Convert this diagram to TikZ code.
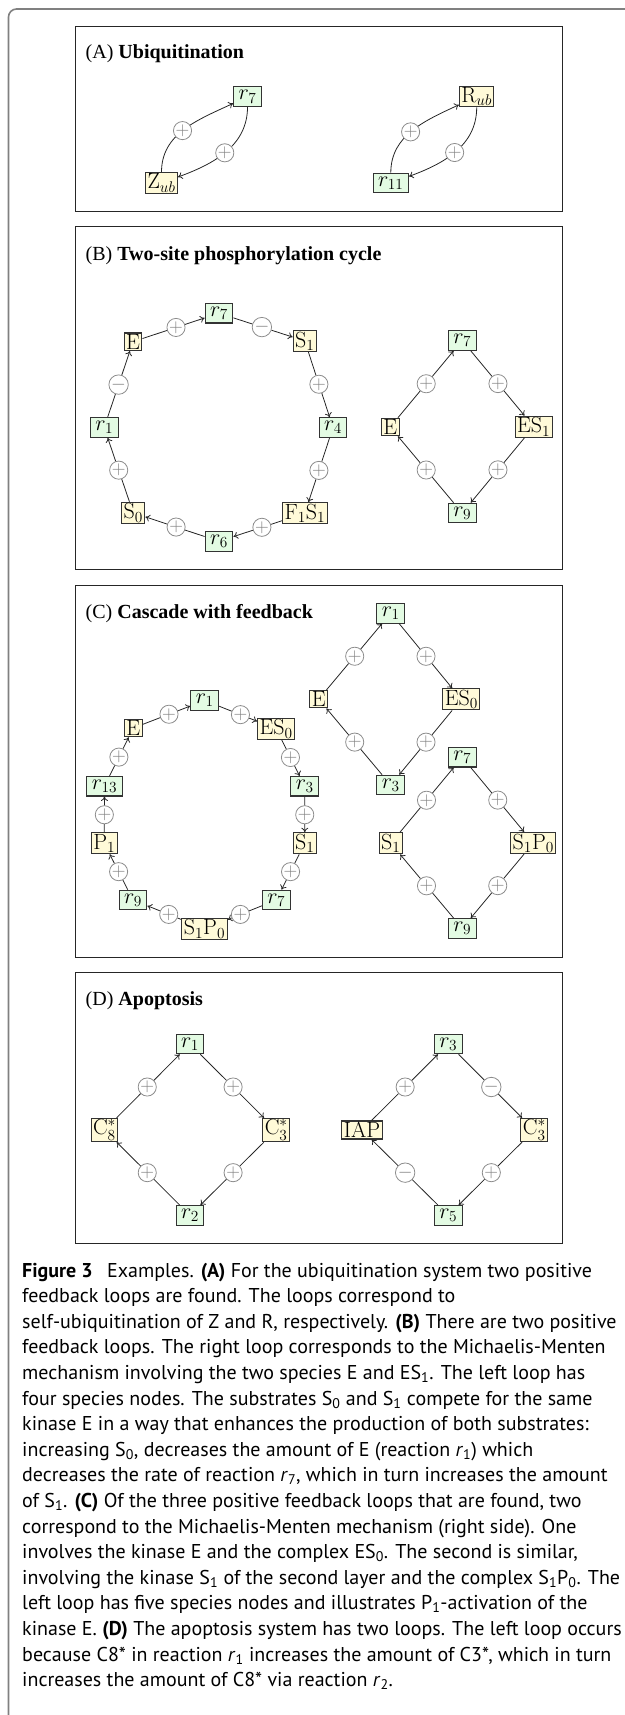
\RequirePackage{fix-cm}
\documentclass[tikz,border=0pt]{standalone}
\usepackage{fontspec}
\newfontfamily\titlefont{Liberation Serif}
\newfontfamily\capfont{PT Sans}
\usetikzlibrary{arrows.meta,calc}
\definecolor{rfill}{HTML}{E3FBE3}
\definecolor{sfill}{HTML}{FFFAD8}
\tikzset{
  rxn/.style={draw=black!80, fill=rfill, line width=1.1pt, inner xsep=5pt, inner ysep=1pt, minimum height=19.5pt, font=\fontsize{22}{24}\selectfont},
  spc/.style={draw=black!80, fill=sfill, line width=1.1pt, inner xsep=2pt, inner ysep=1.2pt, font=\fontsize{22}{24}\selectfont},
  sgn/.style={circle, draw=black!45, fill=white, line width=0.8pt, minimum size=17.5pt, inner sep=0pt, text=black!50, font=\fontsize{19}{19}\selectfont},
  ln/.style={line width=0.8pt, black!85},
  arr/.style={line width=0.8pt, black!85, -{Computer Modern Rightarrow[length=4.5pt,width=7pt]}},
  panel/.style={draw=black!85, line width=1pt},
  ttl/.style={anchor=base west, inner sep=0pt, font=\titlefont\fontsize{20}{24}\selectfont},
  capl/.style={anchor=base west, inner sep=0pt, font=\capfont\fontsize{20}{25}\selectfont},
}
\newcommand{\edgesign}[4]{%
  \node[sgn] (#4) at ($(#1)!.5!(#2)$) {$#3$};
  \draw[ln] (#1) -- (#4);
  \draw[arr] (#4) -- (#2);
}
\begin{document}
\begin{tikzpicture}[x=1pt,y=-1pt]
\useasboundingbox (0,0) rectangle (624,1715);
\draw[black!50, line width=1.6pt, rounded corners=8pt] (8.5,1730) -- (8.5,9) -- (640,9);

% ---------------- Panel A
\draw[panel] (75.7,26.5) rectangle (562.7,211.5);
\node[ttl] (tA) at (85.5,58.5) {(A) \textbf{Ubiquitination}};
\node[rxn] (a7) at (247.5,96.7) {$r_7$};
\node[spc] (aZ) at (161.5,183) {$\mathrm{Z}_{ub}$};
\node[spc] (aR) at (476.7,96.5) {$\mathrm{R}_{ub}$};
\node[rxn] (a11) at (390.8,183) {$r_{11}$};
\draw[arr] (aZ) to[out=90, in=205] node[sgn, pos=0.48] (pa1) {$+$} (a7);
\draw[arr] (a7) to[out=-90, in=20] node[sgn, pos=0.52] (pa2) {$+$} (aZ);
\draw[arr] (a11) to[out=90, in=205] node[sgn, pos=0.48] (pa3) {$+$} (aR);
\draw[arr] (aR) to[out=-90, in=20] node[sgn, pos=0.52] (pa4) {$+$} (a11);

% ---------------- Panel B
\draw[panel] (75.7,226) rectangle (562.7,569.5);
\node[ttl] (tB) at (85.5,260) {(B) \textbf{Two-site phosphorylation cycle}};
\node[rxn] (b7) at (219,313.2) {$r_7$};
\node[spc] (bE) at (133,341.7) {$\mathrm{E}$};
\node[spc] (bS1) at (304.8,341) {$\mathrm{S}_1$};
\node[rxn] (b1) at (104.2,427.5) {$r_1$};
\node[rxn] (b4) at (333,427.5) {$r_4$};
\node[spc] (bS0) at (133.2,512.8) {$\mathrm{S}_0$};
\node[spc] (bF) at (304.8,513.3) {$\mathrm{F}_1\mathrm{S}_1$};
\node[rxn] (b6) at (219,541.3) {$r_6$};
\edgesign{bE}{b7}{+}{pb1}
\edgesign{b7}{bS1}{-}{pb2}
\edgesign{bS1}{b4}{+}{pb3}
\edgesign{b4}{bF}{+}{pb4}
\edgesign{bF}{b6}{+}{pb5}
\edgesign{b6}{bS0}{+}{pb6}
\edgesign{bS0}{b1}{+}{pb7}
\edgesign{b1}{bE}{-}{pb8}
\node[rxn] (bb7) at (462.2,340.5) {$r_7$};
\node[spc] (bbE) at (390.2,427) {$\mathrm{E}$};
\node[spc] (bbES) at (533.7,426.7) {$\mathrm{ES}_1$};
\node[rxn] (bb9) at (462.2,513) {$r_9$};
\edgesign{bbE}{bb7}{+}{pbb1}
\edgesign{bb7}{bbES}{+}{pbb2}
\edgesign{bbES}{bb9}{+}{pbb3}
\edgesign{bb9}{bbE}{+}{pbb4}

% ---------------- Panel C
\draw[panel] (75.7,585) rectangle (562.7,957.5);
\node[ttl] (tC) at (85.5,618) {(C) \textbf{Cascade with feedback}};
\node[rxn] (c1) at (204.7,700.5) {$r_1$};
\node[spc] (cE) at (133.3,728) {$\mathrm{E}$};
\node[spc] (cES) at (276.2,728.8) {$\mathrm{ES}_0$};
\node[rxn] (c13) at (104.5,786.2) {$r_{13}$};
\node[rxn] (c3) at (304.7,786.2) {$r_3$};
\node[spc] (cP) at (104.2,843.3) {$\mathrm{P}_1$};
\node[spc] (cS) at (304.8,843.3) {$\mathrm{S}_1$};
\node[rxn] (c9) at (133,900) {$r_9$};
\node[rxn] (c7) at (276.3,900) {$r_7$};
\node[spc] (cSP) at (204.5,928.8) {$\mathrm{S}_1\mathrm{P}_0$};
\edgesign{cE}{c1}{+}{pc1}
\edgesign{c1}{cES}{+}{pc2}
\edgesign{cES}{c3}{+}{pc3}
\edgesign{c3}{cS}{+}{pc4}
\edgesign{cS}{c7}{+}{pc5}
\edgesign{c7}{cSP}{+}{pc6}
\edgesign{cSP}{c9}{+}{pc7}
\edgesign{c9}{cP}{+}{pc8}
\edgesign{cP}{c13}{+}{pc9}
\edgesign{c13}{cE}{+}{pc10}
\node[rxn] (cc1) at (390.7,613.3) {$r_1$};
\node[spc] (ccE) at (318.7,699.2) {$\mathrm{E}$};
\node[spc] (ccES) at (461.3,699.3) {$\mathrm{ES}_0$};
\node[rxn] (cc3) at (390.7,785) {$r_3$};
\edgesign{ccE}{cc1}{+}{pcc1}
\edgesign{cc1}{ccES}{+}{pcc2}
\edgesign{ccES}{cc3}{+}{pcc3}
\edgesign{cc3}{ccE}{+}{pcc4}
\node[rxn] (cd7) at (462.2,757.2) {$r_7$};
\node[spc] (cdS) at (390.8,843.3) {$\mathrm{S}_1$};
\node[spc] (cdSP) at (533.3,843) {$\mathrm{S}_1\mathrm{P}_0$};
\node[rxn] (cd9) at (462.2,928.3) {$r_9$};
\edgesign{cdS}{cd7}{+}{pcd1}
\edgesign{cd7}{cdSP}{+}{pcd2}
\edgesign{cdSP}{cd9}{+}{pcd3}
\edgesign{cd9}{cdS}{+}{pcd4}

% ---------------- Panel D
\draw[panel] (75.7,972.5) rectangle (562.7,1243.5);
\node[ttl] (tD) at (85.5,1005) {(D) \textbf{Apoptosis}};
\node[rxn] (d1) at (190,1044) {$r_1$};
\node[spc] (dC8) at (104.5,1130) {$\mathrm{C}_8^*$};
\node[spc] (dC3) at (276.2,1130) {$\mathrm{C}_3^*$};
\node[rxn] (d2) at (190,1215.3) {$r_2$};
\edgesign{dC8}{d1}{+}{pd1}
\edgesign{d1}{dC3}{+}{pd2}
\edgesign{dC3}{d2}{+}{pd3}
\edgesign{d2}{dC8}{+}{pd4}
\node[rxn] (dd3) at (448.3,1044) {$r_3$};
\node[spc] (dIAP) at (362,1130) {$\mathrm{IAP}$};
\node[spc] (ddC3) at (534.3,1130) {$\mathrm{C}_3^*$};
\node[rxn] (dd5) at (448.3,1215.3) {$r_5$};
\edgesign{dIAP}{dd3}{+}{pdd1}
\edgesign{dd3}{ddC3}{-}{pdd2}
\edgesign{ddC3}{dd5}{+}{pdd3}
\edgesign{dd5}{dIAP}{-}{pdd4}

% ---------------- Caption
\node[capl] (l1) at (22,1277) {\textbf{Figure 3}\hspace{0.45em} Examples. \textbf{(A)} For the ubiquitination system two positive};
\node[capl] (l2) at (22,1302.6) {feedback loops are found. The loops correspond to};
\node[capl] (l3) at (22,1328.2) {self-ubiquitination of Z and R, respectively. \textbf{(B)} There are two positive};
\node[capl] (l4) at (22,1353.8) {feedback loops. The right loop corresponds to the Michaelis-Menten};
\node[capl] (l5) at (22,1379.4) {mechanism involving the two species E and ES\textsubscript{1}. The left loop has};
\node[capl] (l6) at (22,1405) {four species nodes. The substrates S\textsubscript{0} and S\textsubscript{1} compete for the same};
\node[capl] (l7) at (22,1430.6) {kinase E in a way that enhances the production of both substrates:};
\node[capl] (l8) at (22,1456.2) {increasing S\textsubscript{0}, decreases the amount of E (reaction \textit{r}\textsubscript{1}) which};
\node[capl] (l9) at (22,1481.8) {decreases the rate of reaction \textit{r}\textsubscript{7}, which in turn increases the amount};
\node[capl] (l10) at (22,1507.4) {of S\textsubscript{1}. \textbf{(C)} Of the three positive feedback loops that are found, two};
\node[capl] (l11) at (22,1533) {correspond to the Michaelis-Menten mechanism (right side). One};
\node[capl] (l12) at (22,1558.6) {involves the kinase E and the complex ES\textsubscript{0}. The second is similar,};
\node[capl] (l13) at (22,1584.2) {involving the kinase S\textsubscript{1} of the second layer and the complex S\textsubscript{1}P\textsubscript{0}. The};
\node[capl] (l14) at (22,1609.8) {left loop has five species nodes and illustrates P\textsubscript{1}-activation of the};
\node[capl] (l15) at (22,1635.4) {kinase E. \textbf{(D)} The apoptosis system has two loops. The left loop occurs};
\node[capl] (l16) at (22,1661) {because C8* in reaction \textit{r}\textsubscript{1} increases the amount of C3*, which in turn};
\node[capl] (l17) at (22,1686.6) {increases the amount of C8* via reaction \textit{r}\textsubscript{2}.};
\end{tikzpicture}
\end{document}
